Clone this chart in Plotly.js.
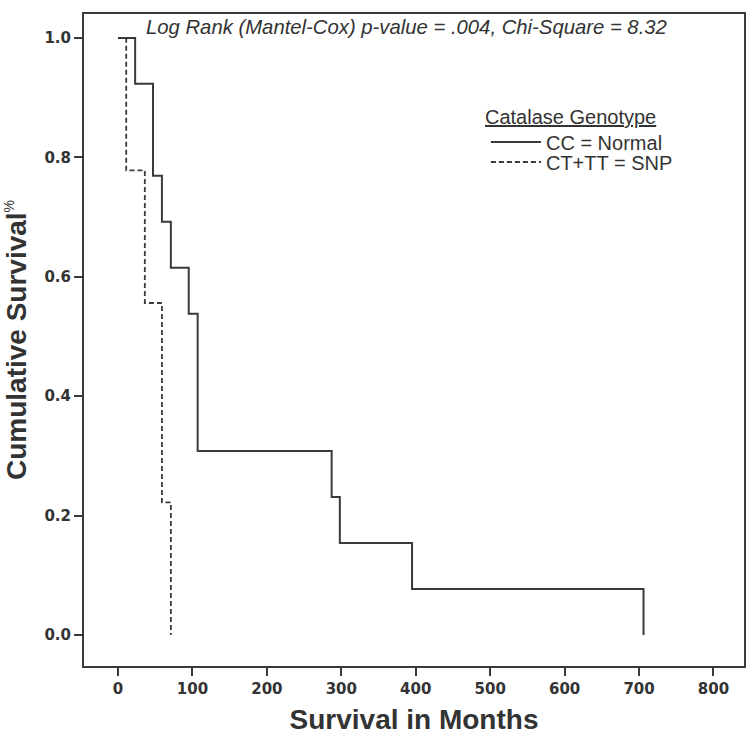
<!DOCTYPE html>
<html>
<head>
<meta charset="utf-8">
<script src="https://cdn.plot.ly/plotly-3.0.1.min.js"></script>
<style>html,body{margin:0;padding:0;background:#fff;}#chart{width:749px;height:744px;}</style>
</head>
<body>
<div id="chart"></div>
<script>
// Kaplan-Meier step data (months, cumulative survival)
const normalMonths = [0, 23, 47, 59, 71, 95, 107, 287, 298, 395, 706];
const normalSurvival = [1.0, 0.923, 0.769, 0.692, 0.615, 0.538, 0.308, 0.231, 0.154, 0.077, 0.0];
const snpMonths = [0, 11, 36, 59, 71];
const snpSurvival = [1.0, 0.778, 0.556, 0.222, 0.0];
const seriesNames = ['CC = Normal', 'CT+TT = SNP'];
const legendTitle = 'Catalase Genotype';
const xTickVals = [0, 100, 200, 300, 400, 500, 600, 700, 800];
const yTickVals = [0, 0.2, 0.4, 0.6, 0.8, 1.0];
const statText = 'Log Rank (Mantel-Cox) p-value = .004, Chi-Square = 8.32';

const ink = '#3a3a3a';
const traces = [
  {x: normalMonths, y: normalSurvival, name: seriesNames[0], mode: 'lines', type: 'scatter', legend: 'legend',
   line: {shape: 'hv', color: ink, width: 2}},
  {x: snpMonths, y: snpSurvival, name: seriesNames[1], mode: 'lines', type: 'scatter', legend: 'legend2',
   line: {shape: 'hv', color: ink, width: 1.8, dash: '5px,3px'}}
];
const tickFont = {family: 'DejaVu Sans', size: 15, color: '#333', weight: 'bold'};
const legFont = {family: 'Liberation Sans', size: 20, color: '#333'};
const legBase = {xanchor: 'left', yanchor: 'middle', bgcolor: 'rgba(0,0,0,0)', borderwidth: 0, font: legFont, itemwidth: 50};
const layout = {
  width: 749, height: 744,
  margin: {l: 84, r: 5, t: 14, b: 78, pad: 0, autoexpand: false},
  paper_bgcolor: '#fff', plot_bgcolor: '#fff',
  showlegend: true,
  legend: Object.assign({x: 0.609, y: 0.8037}, legBase),
  legend2: Object.assign({x: 0.609, y: 0.773}, legBase),
  xaxis: {
    range: [-45.7, 841], tickvals: xTickVals, ticks: 'outside', ticklen: 8, tickwidth: 2, tickcolor: ink,
    showline: true, linecolor: ink, linewidth: 2, mirror: true, showgrid: false, zeroline: false,
    tickfont: tickFont,
    title: {text: 'Survival in Months', standoff: 12, font: {family: 'Liberation Sans', size: 28, color: '#333', weight: 'bold'}}
  },
  yaxis: {
    range: [-0.052, 1.04], tickvals: yTickVals, tickformat: '.1f', ticks: 'outside', ticklen: 8, tickwidth: 2, tickcolor: ink,
    showline: true, linecolor: ink, linewidth: 2, mirror: true, showgrid: false, zeroline: false,
    tickfont: tickFont,
    title: {text: 'Cumulative Survival<sup><span style="font-size:14px;font-weight:normal">%</span></sup>', standoff: 10,
            font: {family: 'Liberation Sans', size: 28, color: '#333', weight: 'bold'}}
  },
  annotations: [{
    xref: 'paper', yref: 'paper', x: 0.488, y: 0.98, xanchor: 'center', yanchor: 'middle', showarrow: false,
    text: '<i>' + statText + '</i>', font: {family: 'Liberation Sans', size: 20.3, color: '#333'}
  }, {
    xref: 'paper', yref: 'paper', x: 0.6045, y: 0.842, xanchor: 'left', yanchor: 'middle', showarrow: false,
    text: '<u>' + legendTitle + '</u>', font: legFont
  }]
};
Plotly.newPlot('chart', traces, layout, {displayModeBar: false, staticPlot: true});
</script>
</body>
</html>
